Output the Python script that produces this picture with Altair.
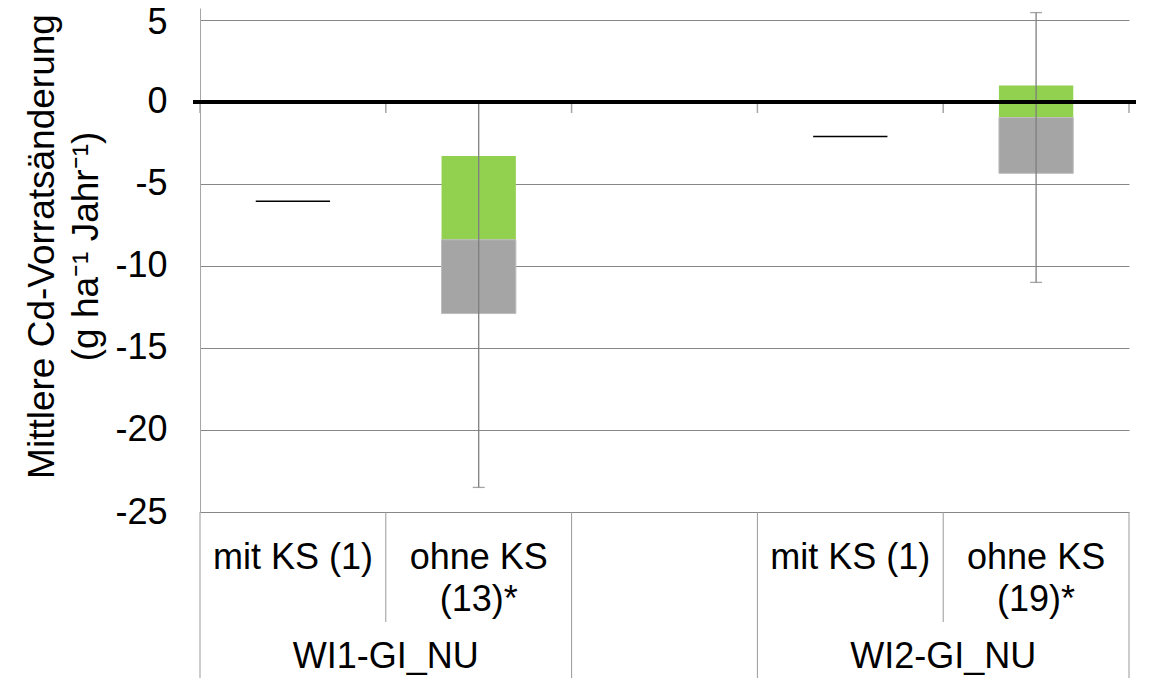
import altair as alt
import pandas as pd

# ---- data ----
slot_labels = ["mit KS (1)", "ohne KS\n(13)*", "", "mit KS (1)", "ohne KS\n(19)*"]
group_labels = ["WI1-GI_NU", "WI2-GI_NU"]
group_first_slot = [0, 3]
group_slot_count = [2, 2]
slot_full_border = [True, False, True, True, False, True]  # category borders 0..5

mit_slots = [0, 3]
mit_values = [-6.05, -2.1]

ohne_slots = [1, 4]
green_top = [-3.3, 1.0]
green_bottom = [-8.4, -0.95]
gray_bottom = [-12.9, -4.35]
err_high = [0.0, 5.45]
err_low = [-23.5, -11.0]

y_ticks = [-25, -20, -15, -10, -5, 0, 5]
Y_TITLE = ["Mittlere Cd-Vorratsänderung", "(g ha\u207b\u00b9 Jahr\u207b\u00b9)"]

FONT = "Liberation Sans"
HALF = 0.2  # half bar width in category units

# ---- tables ----
n_slots = len(slot_labels)
bars = pd.DataFrame({
    "pos": [s + 0.5 for s in ohne_slots],
    "gtop": green_top, "gbot": green_bottom, "rbot": gray_bottom,
    "ehi": err_high, "elo": err_low,
})
bars["left"] = bars["pos"] - HALF
bars["right"] = bars["pos"] + HALF

mit = pd.DataFrame({"pos": [s + 0.5 for s in mit_slots], "v": mit_values})
mit["left"] = mit["pos"] - HALF
mit["right"] = mit["pos"] + HALF

labels = pd.DataFrame({"pos": [i + 0.5 for i in range(n_slots)], "lab": slot_labels})
groups = pd.DataFrame({
    "pos": [f + c / 2 for f, c in zip(group_first_slot, group_slot_count)],
    "lab": group_labels,
})
borders = pd.DataFrame({"b": list(range(n_slots + 1)), "full": slot_full_border})
zero_df = pd.DataFrame({"z": [0.0]})

# ---- scales / axes ----
xsc = alt.Scale(domain=[0, n_slots], nice=False, zero=False)
ysc = alt.Scale(domain=[-25, 5.73], nice=False, zero=False)
yax = alt.Axis(
    values=y_ticks, grid=True, gridColor="#878787", gridWidth=1,
    domain=True, domainColor="#a6a6a6", domainWidth=1, ticks=False,
    labelPadding=33, labelFontSize=36, labelFont=FONT, labelColor="#000000",
    labelExpr="'' + datum.value",
    labelOffset=alt.condition("datum.value == 5", alt.value(3), alt.value(0)),
    title=Y_TITLE, titleFont=FONT, titleFontSize=37, titleFontWeight="normal",
    titleColor="#000000", titleAngle=270, titleAlign="center",
    titleBaseline="alphabetic", titleX=-147, titleY=238, titleLineHeight=44,
)


def X(f):
    return alt.X(f"{f}:Q", scale=xsc, axis=None)


def Y(f):
    return alt.Y(f"{f}:Q", scale=ysc, axis=yax, title=Y_TITLE)


green = alt.Chart(bars).mark_bar(color="#92D050").encode(
    x=X("left"), x2="right", y=Y("gtop"), y2="gbot")
gray = alt.Chart(bars).mark_bar(color="#A5A5A5", stroke="#bdbdbd", strokeWidth=1).encode(
    x=X("left"), x2="right", y=Y("gbot"), y2="rbot")
mit_lines = alt.Chart(mit).mark_rule(color="#000000", strokeWidth=1.5).encode(
    x=X("left"), x2="right", y=Y("v"))
err = alt.Chart(bars).mark_rule(color="#7f7f7f", strokeWidth=1.3).encode(
    x=X("pos"), y=Y("ehi"), y2="elo")
cap_hi = alt.Chart(bars).mark_tick(orient="horizontal", size=12, thickness=1.3, color="#7f7f7f").encode(
    x=X("pos"), y=Y("ehi"))
cap_lo = alt.Chart(bars).mark_tick(orient="horizontal", size=12, thickness=1.3, color="#7f7f7f").encode(
    x=X("pos"), y=Y("elo"))
zero_line = alt.Chart(zero_df).mark_rule(color="#000000", strokeWidth=4).encode(
    x=alt.value(-7), x2=alt.value(936), y=Y("z"))
zero_ticks = alt.Chart(borders).mark_rule(color="#a6a6a6", strokeWidth=1.5).encode(
    x=X("b"), y=alt.value(94), y2=alt.value(105))

sep_full = alt.Chart(borders).transform_filter("datum.full").mark_rule(
    color="#999999", strokeWidth=1).encode(x=X("b"), y=alt.value(504), y2=alt.value(670))
sep_short = alt.Chart(borders).transform_filter("!datum.full").mark_rule(
    color="#999999", strokeWidth=1).encode(x=X("b"), y=alt.value(504), y2=alt.value(614))

slot_text = alt.Chart(labels).mark_text(
    font=FONT, fontSize=36, color="#000000", align="center", baseline="alphabetic",
    lineBreak="\n", lineHeight=42).encode(x=X("pos"), y=alt.value(561), text="lab:N")
group_text = alt.Chart(groups).mark_text(
    font=FONT, fontSize=36, color="#000000", align="center", baseline="alphabetic").encode(
    x=X("pos"), y=alt.value(660), text="lab:N")

chart = alt.layer(
    sep_full, sep_short, green, gray, mit_lines, err, cap_hi, cap_lo,
    zero_ticks, zero_line, slot_text, group_text,
).properties(
    width=929, height=504,
    padding={"left": 192, "top": 0, "right": 10, "bottom": 166},
    autosize=alt.AutoSizeParams(type="none"),
).configure_view(stroke=None)

chart.save("out.html", embed_options={"renderer": "svg", "actions": False})
